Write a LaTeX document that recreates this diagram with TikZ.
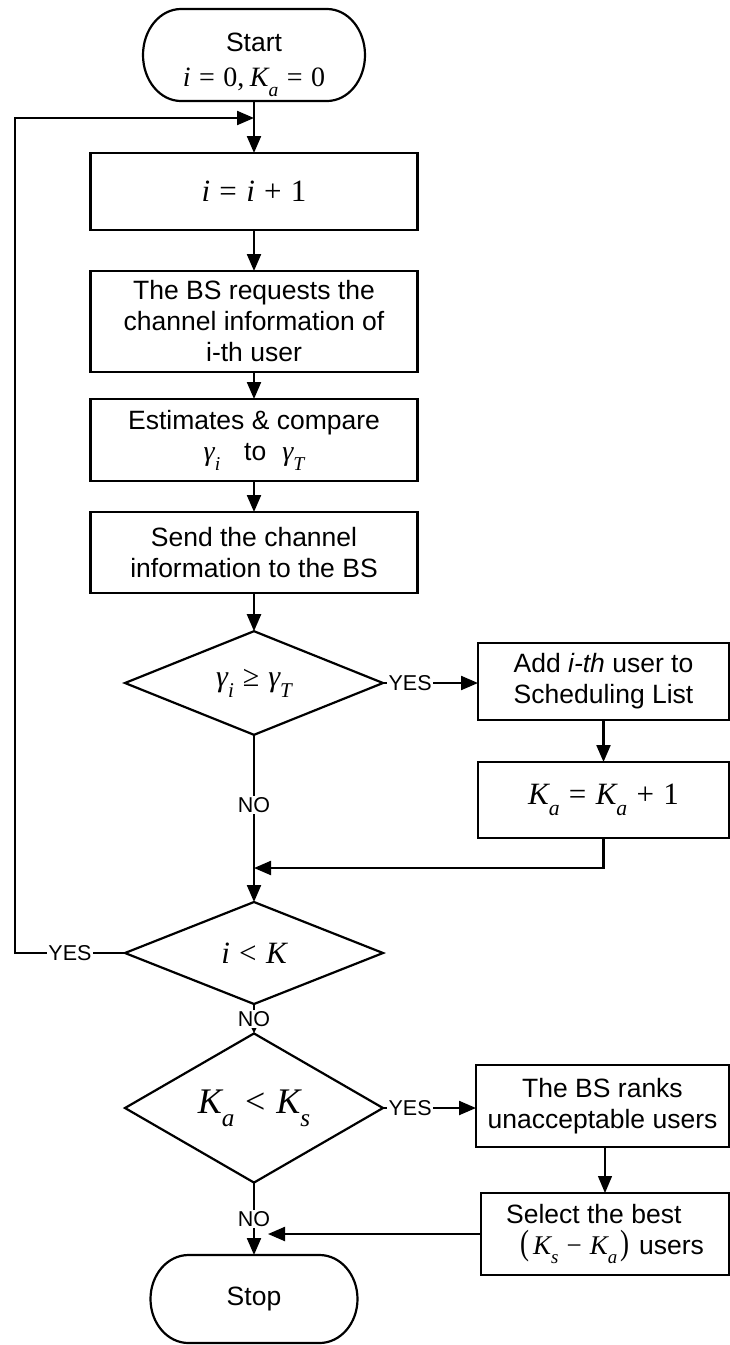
\documentclass[tikz,border=0pt]{standalone}
\usepackage[no-math]{fontspec}
\usepackage{graphicx}
\setmainfont{Liberation Sans}
\newfontfamily\tms{Liberation Serif}
\usetikzlibrary{shapes.geometric,arrows.meta,calc}
\newcommand\Mfont[1]{\tms\fontsize{#1}{#1}\selectfont}
\newcommand\Mv[1]{{\itshape #1}}
\newcommand\Msub[1]{\raisebox{-0.36em}{\scalebox{0.7}{\itshape #1}}}
\newcommand\Mrel[1]{\hspace{0.3em}#1\hspace{0.3em}}
\newcommand\termline[2]{\draw[line width=2.2pt] ([xshift=38pt]#1.north west) -- ([xshift=-38pt]#1.north east) arc[start angle=90,end angle=-90,x radius=38pt,y radius=#2] -- ([xshift=38pt]#1.south west) arc[start angle=270,end angle=90,x radius=38pt,y radius=#2] -- cycle;}
\begin{document}
\begin{tikzpicture}[x=1pt,y=-1pt,
  box/.style={draw, line width=2.2pt, rectangle, inner sep=0pt, outer sep=0pt, align=center, font=\fontsize{26.5}{31}\selectfont},
  dia/.style={draw, line width=2.2pt, diamond, minimum width=258pt, minimum height=102pt, inner sep=0pt, outer sep=0pt},
  term/.style={rectangle, inner sep=0pt, outer sep=0pt, align=center, font=\fontsize{26.5}{35}\selectfont},
  conn/.style={line width=2.2pt, -{Triangle[length=17pt,width=14pt]}},
  smallarr/.style={-{Triangle[length=10pt,width=9pt]}},
  lbl/.style={fill=white, inner sep=1.5pt, font=\fontsize{21.5}{22}\selectfont},
]
\useasboundingbox (0,0) rectangle (730,1345);
\fill[white] (0,0) rectangle (730,1345);

\node[term, minimum width=222pt, minimum height=92pt] (start) at (254,55) {\rule{0pt}{39pt}Start\\{\Mfont{28}\Mv{i}\Mrel{=}0,\hspace{0.2em}\Mv{K}\Msub{a}\Mrel{=}0}};
\node[box, minimum width=327pt, minimum height=77pt] (b1) at (254,191.5) {\Mfont{31}\Mv{i}\Mrel{=}\Mv{i}\Mrel{+}1};
\node[box, minimum width=327pt, minimum height=101pt] (b2) at (254,321.5) {The BS requests the\\channel information of\\i-th user};
\node[box, minimum width=327pt, minimum height=82pt] (b3) at (254,440) {Estimates \& compare\\{\Mfont{28}\Mv{γ}\Msub{i}}\hspace{24pt}to\hspace{16pt}{\Mfont{28}\Mv{γ}\Msub{T}}};
\node[box, minimum width=327pt, minimum height=81pt] (b4) at (254,552.5) {Send the channel\\information to the BS};
\node[dia] (d1) at (254,683) {\Mfont{30}\Mv{γ}\Msub{i}\Mrel{≥}\Mv{γ}\Msub{T}};
\node[box, minimum width=251pt, minimum height=77pt] (a1) at (603.5,681.5) {Add \textit{i-th} user to\\Scheduling List};
\node[box, minimum width=251pt, minimum height=76pt] (a2) at (603.5,800) {\Mfont{31}\Mv{K}\Msub{a}\Mrel{=}\Mv{K}\Msub{a}\Mrel{+}1};
\node[dia] (d2) at (254,953) {\Mfont{31}\Mv{i}\Mrel{<}\Mv{K}};
\node[dia] (d3) at (254,1108) {\Mfont{36}\Mv{K}\Msub{a}\Mrel{<}\Mv{K}\Msub{s}};
\node[box, minimum width=253pt, minimum height=82pt] (r1) at (602.5,1106) {The BS ranks\\unacceptable users};
\node[box, minimum width=248pt, minimum height=82pt, align=left] (r2) at (605,1234) {Select the best\\\hspace{14pt}{\Mfont{27}\scalebox{1}[1.3]{(}\hspace{0.15em}\Mv{K}\Msub{s}\Mrel{−}\Mv{K}\Msub{a}\hspace{0.1em}\scalebox{1}[1.3]{)}}\hspace{10pt}users};
\node[term, minimum width=207pt, minimum height=88pt] (stop) at (254,1299) {Stop};

\termline{start}{46pt}
\termline{stop}{44pt}

\coordinate (loopL) at (15,118);
\coordinate (loopJ) at (254,118);
\coordinate (j1) at (254,868);
\coordinate (j2) at (268,1234);

\draw[conn] (start.south) -- (b1.north);
\draw[conn] (b1.south) -- (b2.north);
\draw[conn] (b2.south) -- (b3.north);
\draw[conn] (b3.south) -- (b4.north);
\draw[conn] (b4.south) -- (d1.north);
\draw[conn] (d1.east) -- node[lbl, pos=0, anchor=west, xshift=3pt]{YES} (d1.east -| a1.west);
\draw[conn] (a1.south) -- (a2.north);
\draw[conn] (d1.south) -- node[lbl, pos=0.42]{NO} (d2.north);
\draw[conn] (a2.south) -- (a2.south |- j1) -- (j1);
\draw[conn, smallarr] (d2.south) -- node[lbl]{NO} (d3.north);
\draw[conn] (d2.west) -- node[lbl]{YES} (d2.west -| loopL) -- (loopL) -- (loopJ);
\draw[conn] (d3.east) -- node[lbl, pos=0, anchor=west, xshift=3pt]{YES} (d3.east -| r1.west);
\draw[conn, line width=1.2pt] (r1.south -| r2.north) -- (r2.north);
\draw[conn] (r2.west) -- (j2);
\draw[conn] (d3.south) -- node[lbl]{NO} (stop.north);
\end{tikzpicture}
\end{document}
